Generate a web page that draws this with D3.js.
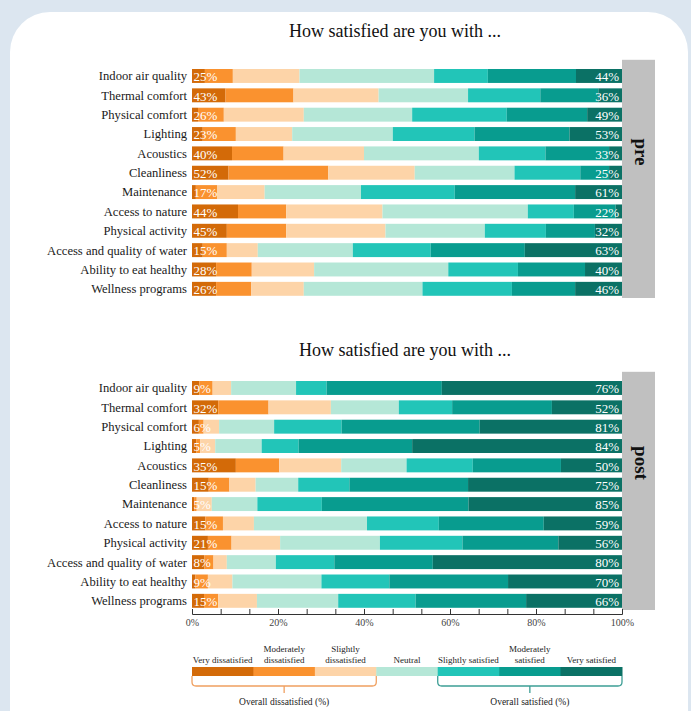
<!DOCTYPE html>
<html><head><meta charset="utf-8">
<script src="https://cdn.jsdelivr.net/npm/d3@7"></script>
<style>body{margin:0;background:#dce6f0;}svg{display:block;}</style>
</head><body>
<svg id="chart" width="691" height="711"></svg>
<script>
const categories = ["Indoor air quality","Thermal comfort","Physical comfort","Lighting","Acoustics","Cleanliness","Maintenance","Access to nature","Physical activity","Access and quality of water","Ability to eat healthy","Wellness programs"];
const levels = ["Very dissatisfied","Moderately dissatisfied","Slightly dissatisfied","Neutral","Slightly satisfied","Moderately satisfied","Very satisfied"];
const levelColors = ["#d36a08","#fa922f","#fdd4a8","#b5e7d7","#22c5b8","#089c8f","#0b7165"];

// pre (%)
const preVeryDis  = [3.0, 7.8, 1.4, 2.5, 9.3, 8.5, 0.9,10.7, 8.1, 2.5, 5.6, 5.6];
const preModDis   = [6.5,15.8, 6.0, 7.7,12.0,23.2, 5.0,11.2,13.8, 5.6, 8.3, 8.2];
const preSlDis    = [15.5,19.8,18.6,13.1,18.7,20.1,11.0,22.4,23.1, 7.2,14.5,12.2];
const preNeutral  = [31.3,20.8,25.2,23.4,26.7,23.2,22.4,33.8,23.1,22.1,31.2,27.6];
const preSlSat    = [12.5,16.8,22.0,19.0,15.5,15.3,21.8,10.7,14.2,18.1,16.2,20.8];
const preModSat   = [20.5,13.5,18.7,22.1,14.8, 6.7,28.0, 9.7,11.4,21.9,15.6,14.7];
const preVerySat  = [10.7, 5.5, 8.1,12.2, 3.0, 3.0,10.9, 1.5, 6.3,22.6, 8.6,10.9];
const preDisLabels = [25,43,26,23,40,52,17,44,45,15,28,26];
const preSatLabels = [44,36,49,53,33,25,61,22,32,63,40,46];

// post (%)
const postVeryDis = [1.7, 6.1, 1.6, 1.0,10.2, 3.9, 0.5, 3.1, 3.7, 2.9, 0.8, 2.8];
const postModDis  = [3.1,11.7, 1.1, 0.9,10.1, 4.8, 0.6, 4.1, 5.5, 2.1, 2.9, 3.3];
const postSlDis   = [4.3,14.5, 3.6, 3.5,14.4, 6.1, 3.5, 7.2,11.3, 3.1, 5.7, 9.0];
const postNeutral = [15.1,15.8,12.8,10.8,15.2, 9.9,10.6,26.3,23.2,11.4,20.7,18.9];
const postSlSat   = [7.1,12.4,15.7, 8.6,15.4,11.9,15.0,16.7,19.2,13.6,15.8,18.0];
const postModSat  = [26.8,23.2,32.1,26.4,20.5,27.6,34.1,24.4,22.3,22.9,27.6,25.7];
const postVerySat = [41.9,16.3,33.1,48.8,14.2,35.8,35.7,18.2,14.8,44.0,26.5,22.3];
const postDisLabels = [9,32,6,5,35,15,5,15,21,8,9,15];
const postSatLabels = [76,52,81,84,50,75,85,59,56,80,70,66];

const axisTicks = d3.range(16).map(i => i*100/15);
const axisLabels = [0,20,40,60,80,100];

const FONT = "'Liberation Serif','Times New Roman',serif";
const svg = d3.select("#chart");
svg.append("rect").attr("x",10).attr("y",12).attr("width",678).attr("height",760).attr("rx",40).attr("fill","#ffffff");

const x = d3.scaleLinear().domain([0,100]).range([192,622]);

function panel(series, disLabels, satLabels, y0, y1, title, titleX, titleY, tag, tagY){
  const y = d3.scaleBand().domain(categories).range([y0,y1]).paddingInner(0.28).paddingOuter(0.14);
  const g = svg.append("g");
  g.append("text").attr("x",titleX).attr("y",titleY).attr("text-anchor","middle")
    .attr("font-family",FONT).attr("font-size",18).attr("fill","#111").text(title);
  g.append("rect").attr("x",622).attr("y",y0-6.5).attr("width",33).attr("height",(y1-y0)+6)
    .attr("fill","#c0c0c0");
  g.append("text").attr("transform",`translate(${635},${tagY}) rotate(90)`)
    .attr("text-anchor","middle").attr("font-family",FONT).attr("font-weight","bold")
    .attr("font-size",19).attr("fill","#111").text(tag);
  const stack = d3.stack().keys(d3.range(7))(categories.map((c,i)=>{const o={}; series.forEach((s,k)=>o[k]=s[i]); o.cat=c; return o;}));
  stack.forEach((layer,k)=>{
    g.selectAll(null).data(layer).join("rect")
      .attr("x",d=>x(d[0])).attr("width",d=>Math.max(0,x(d[1])-x(d[0])))
      .attr("y",d=>y(d.data.cat)).attr("height",y.bandwidth())
      .attr("fill",levelColors[k]);
  });
  g.selectAll(null).data(categories).join("text")
    .attr("x",187).attr("y",d=>y(d)+y.bandwidth()/2).attr("dy","0.35em")
    .attr("text-anchor","end").attr("font-family",FONT).attr("font-size",12.6).attr("fill","#1a1a1a").text(d=>d);
  g.selectAll(null).data(categories).join("text")
    .attr("x",x(0)+1.5).attr("y",d=>y(d)+y.bandwidth()/2).attr("dy","0.4em")
    .attr("font-family",FONT).attr("font-size",13).attr("fill","#ffffff").text((d,i)=>disLabels[i]+"%");
  g.selectAll(null).data(categories).join("text")
    .attr("x",x(100)-3).attr("y",d=>y(d)+y.bandwidth()/2).attr("dy","0.4em").attr("text-anchor","end")
    .attr("font-family",FONT).attr("font-size",13).attr("fill","#ffffff").text((d,i)=>satLabels[i]+"%");
  return y;
}

panel([preVeryDis,preModDis,preSlDis,preNeutral,preSlSat,preModSat,preVerySat], preDisLabels, preSatLabels,
  66.3, 298.5, "How satisfied are you with ...", 395, 37, "pre", 152);
panel([postVeryDis,postModDis,postSlDis,postNeutral,postSlSat,postModSat,postVerySat], postDisLabels, postSatLabels,
  378.3, 610.5, "How satisfied are you with ...", 405, 356, "post", 463);

// axis
const ax = svg.append("g").attr("transform","translate(0,614)")
  .call(d3.axisBottom(x).tickValues(axisTicks).tickSize(-5).tickPadding(5)
    .tickFormat(d => axisLabels.some(v=>Math.abs(v-d)<1e-6) ? Math.round(d)+"%" : ""));
ax.selectAll("path,line").attr("stroke","#333");
ax.selectAll("text").attr("font-family",FONT).attr("font-size",10).attr("fill","#444");

// legend
const lx = d3.scaleBand().domain(levels).range([192,622]);
const lg = svg.append("g");
lg.selectAll(null).data(levels).join("rect")
  .attr("x",d=>lx(d)).attr("width",lx.bandwidth()+0.5).attr("y",667).attr("height",9)
  .attr("fill",(d,i)=>levelColors[i]);
const legLines = [["Very dissatisfied"],["Moderately","dissatisfied"],["Slightly","dissatisfied"],["Neutral"],["Slightly satisfied"],["Moderately","satisfied"],["Very satisfied"]];
levels.forEach((lv,i)=>{
  const t = lg.append("text").attr("x",lx(lv)+lx.bandwidth()/2).attr("text-anchor","middle")
    .attr("font-family",FONT).attr("font-size",9).attr("fill","#222");
  const lines = legLines[i];
  lines.forEach((ln,j)=>{
    t.append("tspan").attr("x",lx(lv)+lx.bandwidth()/2).attr("y",663-(lines.length-1-j)*11.5).text(ln);
  });
});
function brace(x0,x1,color,label){
  const cx=(x0+x1)/2;
  lg.append("path").attr("d",`M${x0},676 V682 Q${x0},686 ${x0+4},686 H${x1-4} Q${x1},686 ${x1},682 V676 M${cx},686 V693`)
    .attr("fill","none").attr("stroke",color).attr("stroke-width",1.3);
  lg.append("text").attr("x",cx).attr("y",705).attr("text-anchor","middle")
    .attr("font-family",FONT).attr("font-size",9.5).attr("fill","#222").text(label);
}
brace(lx(levels[0]), lx(levels[2])+lx.bandwidth(), "#f0a060", "Overall dissatisfied (%)");
brace(lx(levels[4]), lx(levels[6])+lx.bandwidth(), "#3d9e95", "Overall satisfied (%)");
</script>
</body></html>
